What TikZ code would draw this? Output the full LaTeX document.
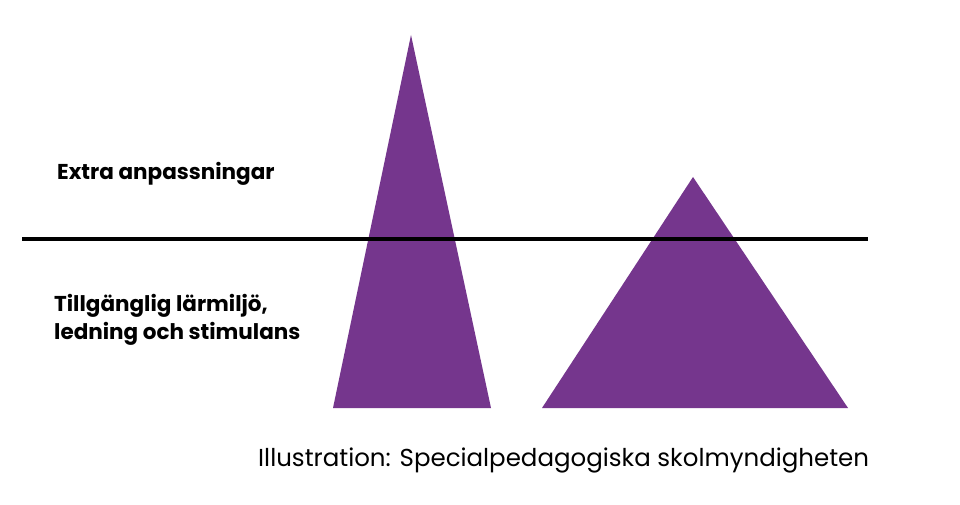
\documentclass[tikz,border=0pt]{standalone}
\usepackage{fontspec}
\setmainfont{Poppins}
\definecolor{spsmpurple}{RGB}{117,54,141}
\begin{document}
\begin{tikzpicture}[x=1pt,y=-1pt,
  tri/.style={fill=spsmpurple,draw=none},
  lbl/.style={font=\bfseries\fontsize{21.5}{28}\selectfont,anchor=west,align=left,inner sep=0pt},
  captext/.style={font=\fontsize{24.5}{28}\selectfont,anchor=west,inner sep=0pt}]
\useasboundingbox (0,0) rectangle (960,505);
\fill[white] (0,0) rectangle (960,505);
\fill[tri] (411,35) -- (491,408) -- (333,408) -- cycle;
\fill[tri] (693,177) -- (848,408) -- (542,408) -- cycle;
\coordinate (l1) at (22,239);
\coordinate (l2) at (868,239);
\draw[line width=4pt] (l1) -- (l2);
\node[lbl] (extra) at (57,174) {Extra anpassningar};
\node[lbl] (tillg) at (54,320) {Tillgänglig lärmiljö,\\ledning och stimulans};
\node[captext] (illu) at (258,460) {Illustration: Specialpedagogiska skolmyndigheten};
\end{tikzpicture}
\end{document}
